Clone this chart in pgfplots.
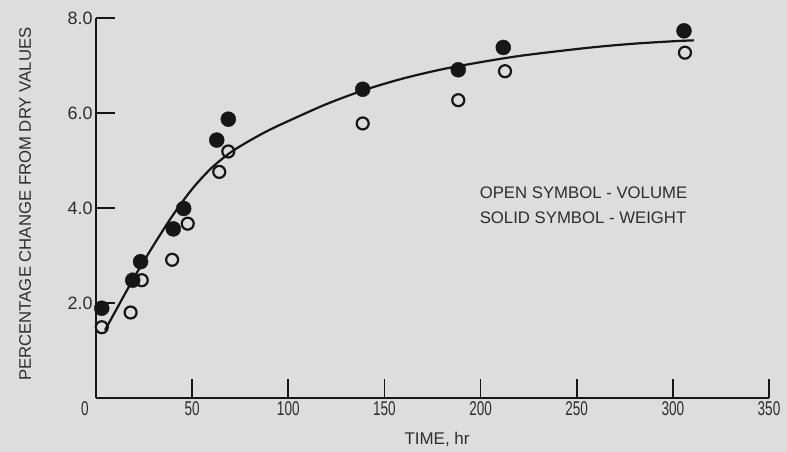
\documentclass[border=0pt]{standalone}
\usepackage{fontspec}
\setmainfont{Liberation Sans}
\newfontfamily\xtickfont{Liberation Sans}[FakeStretch=0.68]
\usepackage{pgfplots}
\pgfplotsset{compat=1.18}
\definecolor{bg}{RGB}{221,221,221}
\definecolor{ink}{RGB}{22,22,22}
\definecolor{txt}{RGB}{45,45,45}
\begin{document}
\begin{tikzpicture}
\fill[bg, use as bounding box] (-96bp,-54bp) rectangle (691bp,398bp);
\begin{axis}[
  at={(0,0)}, anchor=south west,
  scale only axis, width=673bp, height=380bp,
  xmin=0, xmax=350, ymin=0, ymax=8,
  axis x line*=bottom, axis y line*=left,
  axis line style={-, line width=1.8bp, color=ink},
  tick align=inside,
  major tick length=19bp,
  tick style={line width=1.6bp, color=ink},
  xtick={50,100,...,350},
  ytick={2,4,6,8},
  yticklabels={2.0,4.0,6.0,8.0},
  /pgf/number format/assume math mode=true,
  xticklabel style={font=\xtickfont\fontsize{20}{20}\selectfont, text=txt},
  yticklabel style={font=\fontsize{18}{18}\selectfont, text=txt},
  extra x ticks={0}, extra x tick labels={0},
  extra x tick style={major tick length=0pt, tick label style={xshift=-11bp}},
  xlabel={TIME, hr},
  ylabel={PERCENTAGE CHANGE FROM DRY VALUES},
  xlabel style={at={(axis description cs:0.5067,-0.108)}, anchor=center, font=\fontsize{17}{17}\selectfont, text=txt},
  ylabel style={at={(axis description cs:-0.1055,0.51)}, anchor=center, font=\fontsize{16.8}{16.8}\selectfont, text=txt},
]
\addplot[smooth, line width=2.2bp, color=ink] coordinates {
  (4.7,1.43) (10,1.82) (20,2.55) (30,3.22) (40,3.85) (50,4.40) (60,4.84)
  (70,5.17) (80,5.42) (90,5.64) (100,5.83) (120,6.19) (140,6.49) (160,6.73)
  (180,6.92) (200,7.07) (220,7.20) (240,7.30) (260,7.39) (280,7.46) (300,7.51) (311,7.53)
};
\addplot[only marks, mark=o, mark size=6bp, color=ink, mark options={line width=2.2bp}] coordinates {
  (3,1.49) (18,1.80) (23.8,2.48) (39.6,2.91) (47.7,3.67) (64.1,4.76) (68.8,5.19)
  (138.7,5.78) (188.4,6.27) (212.7,6.88) (306.3,7.27)
};
\addplot[only marks, mark=*, mark size=7.5bp, color=ink] coordinates {
  (3,1.89) (19.1,2.48) (23.2,2.87) (40.2,3.56) (45.6,3.99) (62.8,5.43) (68.8,5.87)
  (138.7,6.50) (188.4,6.91) (211.8,7.38) (305.8,7.73)
};
\node[anchor=west, align=left, font=\fontsize{16.8}{25}\selectfont, text=txt, inner sep=0pt] at (axis cs:199.5,4.05) {OPEN SYMBOL - VOLUME\\SOLID SYMBOL - WEIGHT};
\end{axis}
\end{tikzpicture}
\end{document}
